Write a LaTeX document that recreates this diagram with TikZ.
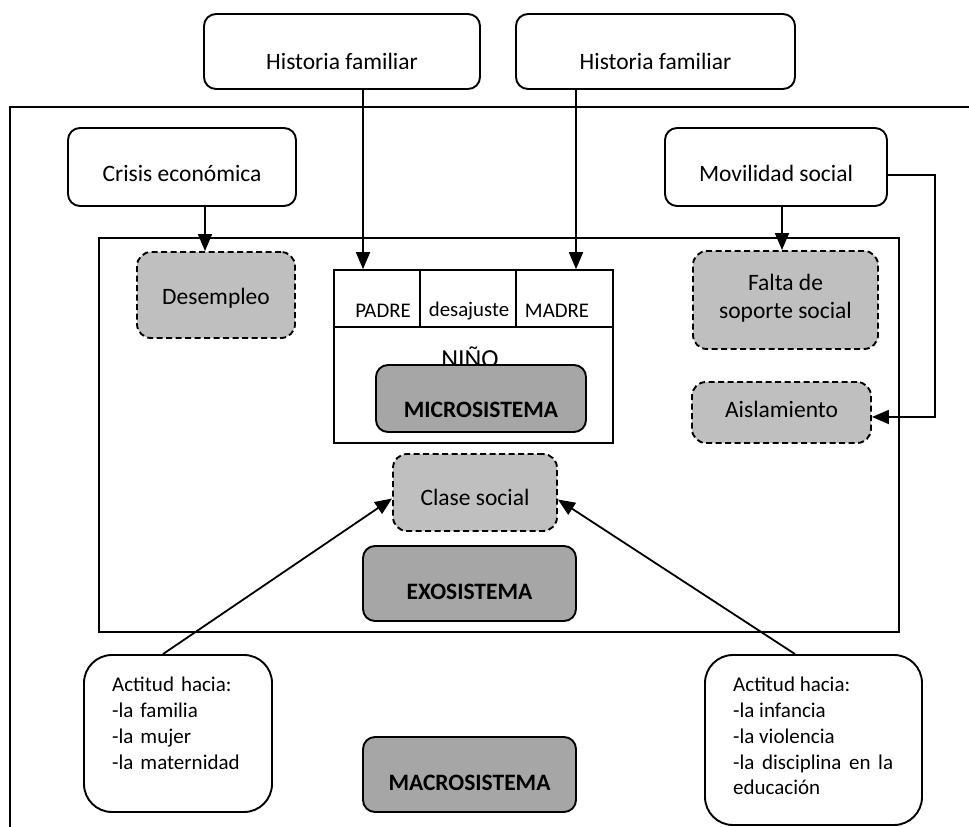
\documentclass[tikz,border=0pt]{standalone}
\usepackage{fontspec}
\setmainfont{Carlito}
\usetikzlibrary{positioning,calc,arrows.meta}
\definecolor{grisclaro}{HTML}{BFBFBF}
\definecolor{grisoscuro}{HTML}{A6A6A6}
\hyphenpenalty=10000

\tikzset{
  caja/.style={draw, line width=1.9pt, rounded corners=12pt, fill=white, inner sep=0pt},
  cajapunt/.style={draw, line width=1.9pt, dash pattern=on 6pt off 3.5pt, rounded corners=14pt, fill=grisclaro, inner sep=0pt},
  sistema/.style={draw, line width=1.9pt, rounded corners=12pt, fill=grisoscuro, inner sep=0pt},
  actitud/.style={draw, line width=1.9pt, rounded corners=28pt, fill=white, inner sep=0pt},
  texto/.style={inner sep=0pt, font=\fontsize{23.5}{28}\selectfont},
  chico/.style={inner sep=0pt, font=\fontsize{20.8}{25}\selectfont},
  negrita/.style={inner sep=0pt, font=\fontsize{23.5}{28}\selectfont\bfseries},
  lista/.style={inner sep=0pt, anchor=north west, font=\fontsize{21}{25.8}\selectfont},
  flecha/.style={line width=1.8pt, -{Triangle[length=17pt,width=14pt]}},
  linea/.style={line width=1.9pt},
  fino/.style={line width=1.7pt},
}

\begin{document}
\begin{tikzpicture}[x=1pt,y=-1pt]
    \useasboundingbox (0,0) rectangle (969,827);

    % marcos del macro y exosistema
    \draw[linea] (969,107) -- (10,107) -- (10,827);
    \node[draw, linea, inner sep=0pt, minimum width=800pt, minimum height=394pt] (exo) at (499,435) {};

    % cajas de arriba
    \node[caja, minimum width=276pt, minimum height=75pt] (hf1) at (342,51.5) {};
    \node[texto] (hf1t) at (342,61) {Historia familiar};
    \node[caja, minimum width=279pt, minimum height=75pt] (hf2) at (655.5,51.5) {};
    \node[texto] (hf2t) at (655.5,61) {Historia familiar};
    \node[caja, minimum width=228pt, minimum height=78pt] (crisis) at (182,167) {};
    \node[texto] (crisist) at (182,173) {Crisis económica};
    \node[caja, minimum width=222pt, minimum height=78pt] (movil) at (776,167) {};
    \node[texto] (movilt) at (776,173) {Movilidad social};

    % factores del exosistema
    \node[cajapunt, minimum width=158pt, minimum height=86pt] (desempleo) at (216,295) {};
    \node[texto] (desempleot) at (216,298) {Desempleo};
    \node[cajapunt, minimum width=185pt, minimum height=98pt] (falta) at (785.5,300) {};
    \node[texto, align=center] (faltat) at (785.5,298) {Falta de\\soporte social};
    \node[cajapunt, minimum width=179pt, minimum height=61pt] (aisl) at (781.5,412.5) {};
    \node[texto] (aislt) at (781.5,409) {Aislamiento};
    \node[cajapunt, minimum width=164pt, minimum height=77pt] (clase) at (475,492.5) {};
    \node[texto] (claset) at (475,497) {Clase social};

    % familia
    \node[draw, fino, inner sep=0pt, minimum width=279pt, minimum height=173pt] (familia) at (473.5,356.5) {};
    \draw[fino] ($(familia.north west)+(0,58)$) -- ($(familia.north east)+(0,58)$);
    \draw[fino] ($(familia.north west)+(87,0)$) -- ++(0,58);
    \draw[fino] ($(familia.north west)+(183,0)$) -- ++(0,58);
    \node[chico] (padre) at (383,311) {PADRE};
    \node[chico] (desaj) at (469,311) {desajuste};
    \node[chico] (madre) at (557,311) {MADRE};
    \node[inner sep=0pt, anchor=base, font=\fontsize{26}{30}\selectfont] (nino) at (470,367) {NIÑO};

    % sistemas
    \node[sistema, minimum width=210pt, minimum height=67pt] (micro) at (481,398.5) {};
    \node[negrita] (microt) at (481,410) {MICROSISTEMA};
    \node[sistema, minimum width=213pt, minimum height=75pt] (exos) at (469.5,583.5) {};
    \node[negrita] (exost) at (469.5,592) {EXOSISTEMA};
    \node[sistema, minimum width=213pt, minimum height=75pt] (macro) at (469.5,774.5) {};
    \node[negrita] (macrot) at (469.5,783) {MACROSISTEMA};

    % actitudes
    \node[actitud, minimum width=188pt, minimum height=157pt] (act1) at (178,733.5) {};
    \node[lista, text width=150pt, align=left] (act1t) at (112,677) {Actitud hacia:\\-la familia\\-la mujer\\-la maternidad};
    \node[actitud, minimum width=217pt, minimum height=170pt] (act2) at (813.5,740) {};
    \node[lista, text width=160pt, align=justify] (act2t) at (733,677) {Actitud hacia:\\-la infancia\\-la violencia\\-la disciplina en la educación};

    % flechas
    \draw[flecha] ([xshift=21pt]hf1.south) -- ([xshift=21pt]hf1.south |- familia.north);
    \draw[flecha] ([xshift=-79.5pt]hf2.south) -- ([xshift=-79.5pt]hf2.south |- familia.north);
    \draw[flecha] ([xshift=23pt]crisis.south) -- ([xshift=23pt]crisis.south |- desempleo.north);
    \draw[flecha] ([xshift=6pt]movil.south) -- ([xshift=6pt]movil.south |- falta.north);
    \draw[flecha] ([yshift=-8pt]movil.east) -- ++(47,0) |- ([yshift=-4.5pt]aisl.east);
    \draw[flecha] ([xshift=-15pt]act1.north) -- ([yshift=-6pt]clase.west);
    \draw[flecha] ([xshift=-18.5pt]act2.north) -- ([yshift=-7pt]clase.east);
\end{tikzpicture}
\end{document}
